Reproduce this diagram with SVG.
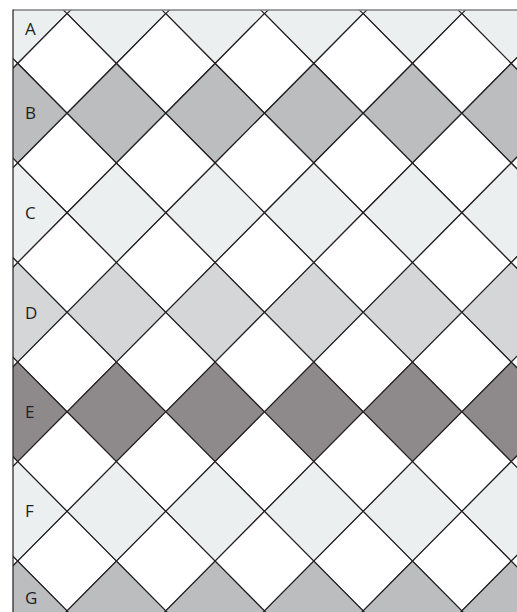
<svg xmlns="http://www.w3.org/2000/svg" xmlns:xlink="http://www.w3.org/1999/xlink" width="517" height="612" viewBox="0 0 517 612">
<style>
.c{stroke:#231f20;stroke-width:1.2}
.w{fill:#ffffff}
.l{fill:#ebeff0}
.g{fill:#bcbdbf}
.m{fill:#d5d6d8}
.k{fill:#8e8a8b}
.lab{font-family:"Open Sans","Liberation Sans",sans-serif;font-size:17px;fill:#231f20}
</style>
<defs>
<path id="d" d="M-49.35 0L0-49.77L49.35 0L0 49.77Z"/>
<clipPath id="clip"><rect x="13" y="10" width="504" height="602"/></clipPath>
</defs>
<rect x="0" y="0" width="517" height="612" fill="#ffffff"/>
<g id="tiles" clip-path="url(#clip)">
<g id="rowA" class="c l">
<use xlink:href="#d" x="17.7" y="13.7"/><use xlink:href="#d" x="116.4" y="13.7"/><use xlink:href="#d" x="215.1" y="13.7"/><use xlink:href="#d" x="313.8" y="13.7"/><use xlink:href="#d" x="412.5" y="13.7"/><use xlink:href="#d" x="511.2" y="13.7"/>
</g>
<g id="rowAB" class="c w">
<use xlink:href="#d" x="-31.65" y="63.47"/><use xlink:href="#d" x="67.05" y="63.47"/><use xlink:href="#d" x="165.75" y="63.47"/><use xlink:href="#d" x="264.45" y="63.47"/><use xlink:href="#d" x="363.15" y="63.47"/><use xlink:href="#d" x="461.85" y="63.47"/><use xlink:href="#d" x="560.55" y="63.47"/>
</g>
<g id="rowB" class="c g">
<use xlink:href="#d" x="17.7" y="113.24"/><use xlink:href="#d" x="116.4" y="113.24"/><use xlink:href="#d" x="215.1" y="113.24"/><use xlink:href="#d" x="313.8" y="113.24"/><use xlink:href="#d" x="412.5" y="113.24"/><use xlink:href="#d" x="511.2" y="113.24"/>
</g>
<g id="rowBC" class="c w">
<use xlink:href="#d" x="-31.65" y="163.01"/><use xlink:href="#d" x="67.05" y="163.01"/><use xlink:href="#d" x="165.75" y="163.01"/><use xlink:href="#d" x="264.45" y="163.01"/><use xlink:href="#d" x="363.15" y="163.01"/><use xlink:href="#d" x="461.85" y="163.01"/><use xlink:href="#d" x="560.55" y="163.01"/>
</g>
<g id="rowC" class="c l">
<use xlink:href="#d" x="17.7" y="212.78"/><use xlink:href="#d" x="116.4" y="212.78"/><use xlink:href="#d" x="215.1" y="212.78"/><use xlink:href="#d" x="313.8" y="212.78"/><use xlink:href="#d" x="412.5" y="212.78"/><use xlink:href="#d" x="511.2" y="212.78"/>
</g>
<g id="rowCD" class="c w">
<use xlink:href="#d" x="-31.65" y="262.55"/><use xlink:href="#d" x="67.05" y="262.55"/><use xlink:href="#d" x="165.75" y="262.55"/><use xlink:href="#d" x="264.45" y="262.55"/><use xlink:href="#d" x="363.15" y="262.55"/><use xlink:href="#d" x="461.85" y="262.55"/><use xlink:href="#d" x="560.55" y="262.55"/>
</g>
<g id="rowD" class="c m">
<use xlink:href="#d" x="17.7" y="312.32"/><use xlink:href="#d" x="116.4" y="312.32"/><use xlink:href="#d" x="215.1" y="312.32"/><use xlink:href="#d" x="313.8" y="312.32"/><use xlink:href="#d" x="412.5" y="312.32"/><use xlink:href="#d" x="511.2" y="312.32"/>
</g>
<g id="rowDE" class="c w">
<use xlink:href="#d" x="-31.65" y="362.09"/><use xlink:href="#d" x="67.05" y="362.09"/><use xlink:href="#d" x="165.75" y="362.09"/><use xlink:href="#d" x="264.45" y="362.09"/><use xlink:href="#d" x="363.15" y="362.09"/><use xlink:href="#d" x="461.85" y="362.09"/><use xlink:href="#d" x="560.55" y="362.09"/>
</g>
<g id="rowE" class="c k">
<use xlink:href="#d" x="17.7" y="411.86"/><use xlink:href="#d" x="116.4" y="411.86"/><use xlink:href="#d" x="215.1" y="411.86"/><use xlink:href="#d" x="313.8" y="411.86"/><use xlink:href="#d" x="412.5" y="411.86"/><use xlink:href="#d" x="511.2" y="411.86"/>
</g>
<g id="rowEF" class="c w">
<use xlink:href="#d" x="-31.65" y="461.63"/><use xlink:href="#d" x="67.05" y="461.63"/><use xlink:href="#d" x="165.75" y="461.63"/><use xlink:href="#d" x="264.45" y="461.63"/><use xlink:href="#d" x="363.15" y="461.63"/><use xlink:href="#d" x="461.85" y="461.63"/><use xlink:href="#d" x="560.55" y="461.63"/>
</g>
<g id="rowF" class="c l">
<use xlink:href="#d" x="17.7" y="511.4"/><use xlink:href="#d" x="116.4" y="511.4"/><use xlink:href="#d" x="215.1" y="511.4"/><use xlink:href="#d" x="313.8" y="511.4"/><use xlink:href="#d" x="412.5" y="511.4"/><use xlink:href="#d" x="511.2" y="511.4"/>
</g>
<g id="rowFG" class="c w">
<use xlink:href="#d" x="-31.65" y="561.17"/><use xlink:href="#d" x="67.05" y="561.17"/><use xlink:href="#d" x="165.75" y="561.17"/><use xlink:href="#d" x="264.45" y="561.17"/><use xlink:href="#d" x="363.15" y="561.17"/><use xlink:href="#d" x="461.85" y="561.17"/><use xlink:href="#d" x="560.55" y="561.17"/>
</g>
<g id="rowG" class="c g">
<use xlink:href="#d" x="17.7" y="610.94"/><use xlink:href="#d" x="116.4" y="610.94"/><use xlink:href="#d" x="215.1" y="610.94"/><use xlink:href="#d" x="313.8" y="610.94"/><use xlink:href="#d" x="412.5" y="610.94"/><use xlink:href="#d" x="511.2" y="610.94"/>
</g>
</g>
<g id="border">
<line x1="13" y1="10" x2="517" y2="10" stroke="#808285" stroke-width="1.5"/>
<line x1="13" y1="9.5" x2="13" y2="612" stroke="#231f20" stroke-width="1.2"/>
</g>
<g id="labels" class="lab">
<text x="25" y="35">A</text>
<text x="25" y="119">B</text>
<text x="25" y="219">C</text>
<text x="25" y="319">D</text>
<text x="25" y="418">E</text>
<text x="25" y="517">F</text>
<text x="25" y="604">G</text>
</g>
</svg>
